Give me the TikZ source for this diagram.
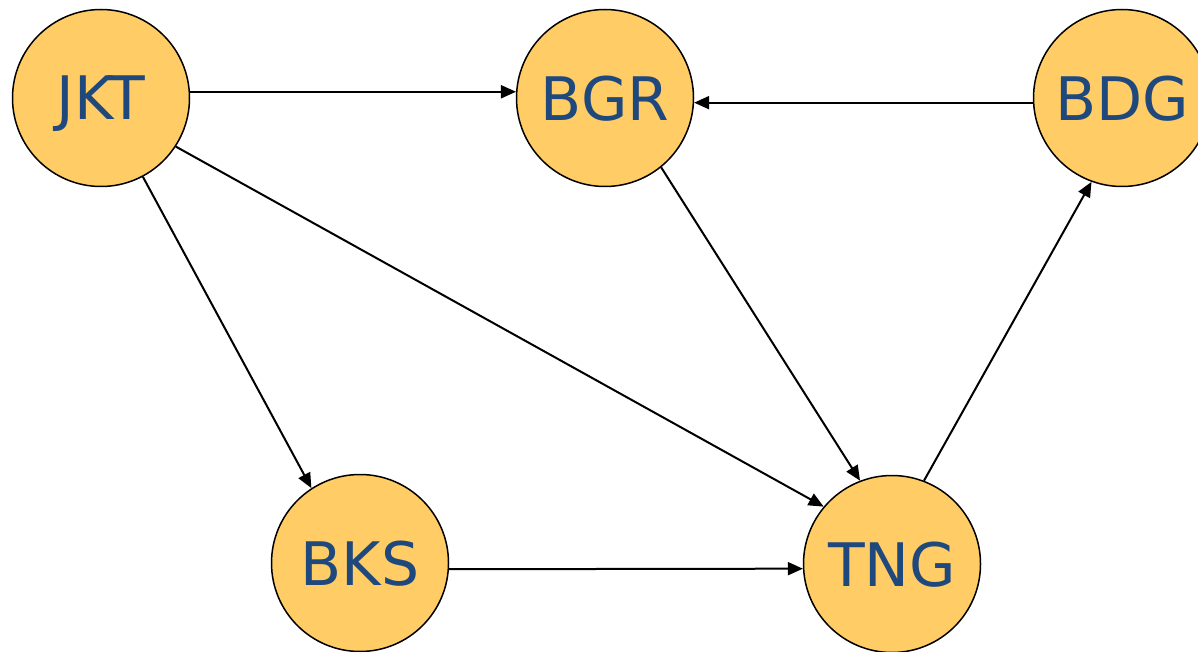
\documentclass[tikz,border=0pt]{standalone}
\usepackage{fontspec}
\setmainfont{DejaVu Sans}
\usetikzlibrary{arrows.meta}

\begin{document}
\begin{tikzpicture}[x=1pt,y=-1pt,line cap=rect]
\useasboundingbox (0,0) rectangle (1198,652);
\definecolor{custcol_ff_cc_66}{RGB}{255, 204, 102}
\definecolor{custcol_1f_49_7d}{RGB}{31, 73, 125}
\tikzset{
  city/.style={circle, draw=black, line width=1.5pt, fill=custcol_ff_cc_66,
    minimum size=177pt, inner sep=0pt, text=custcol_1f_49_7d, text depth=0pt,
    font=\fontsize{60pt}{60pt}\selectfont},
  route/.style={line width=2pt, line cap=butt, -{Triangle[length=15pt,width=13pt]}}
}
% kota
\node[city] (JKT) at (101,98)  {JKT};
\node[city] (BGR) at (605,98)  {BGR};
\node[city] (BDG) at (1122,98) {BDG};
\node[city] (BKS) at (360,563) {BKS};
\node[city] (TNG) at (892,564) {TNG};
% rute
\draw [route] (JKT.4)     -- (BGR.176);
\draw [route] (BDG.183)   -- (BGR.-3);
\draw [route] (JKT.-33)   -- (TNG.140);
\draw [route] (JKT.-62)   -- (BKS.123);
\draw [route] (BGR.-51)   -- (TNG.111);
\draw [route] (BKS.-4)    -- (TNG.183.6);
\draw [route] (TNG.69)    -- (BDG.-110);
\end{tikzpicture}
\end{document}
